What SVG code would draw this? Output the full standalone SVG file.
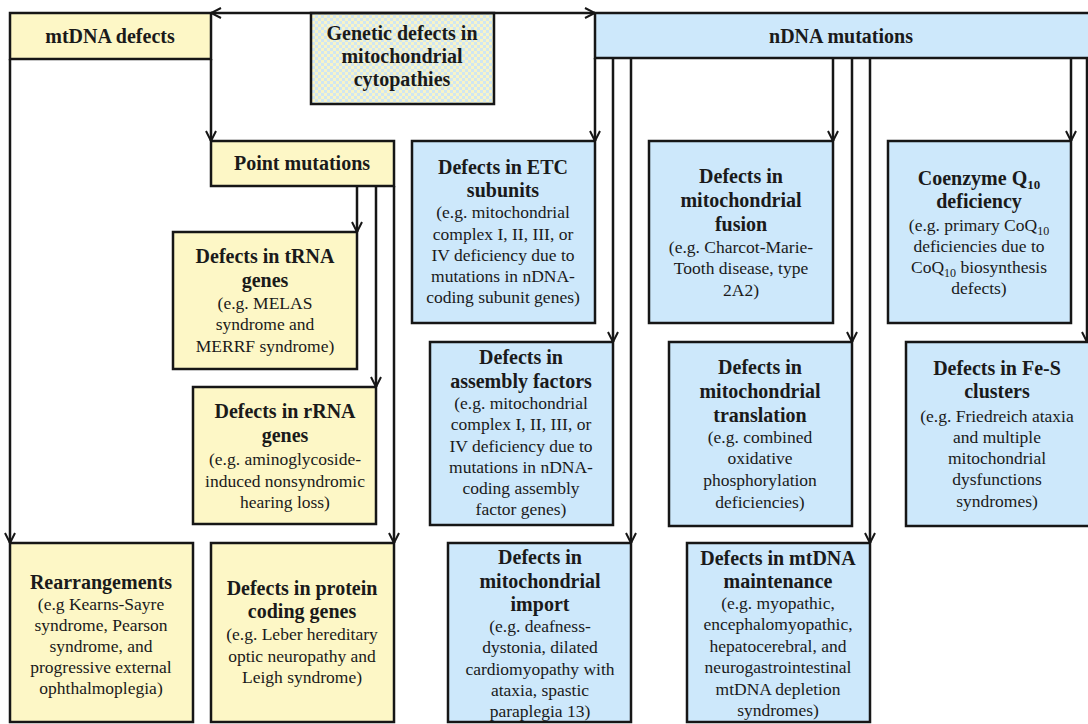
<svg xmlns="http://www.w3.org/2000/svg" width="1088" height="724" viewBox="0 0 1088 724">
<style>
.y{fill:#FDF7C6;stroke:#161616;stroke-width:2.5}
.b{fill:#CDE8FB;stroke:#161616;stroke-width:2.5}
.g{fill:url(#chk);stroke:#161616;stroke-width:2.5}
text{font-family:"Liberation Serif","Times New Roman",serif;fill:#1a1a1a;text-anchor:middle}
.t{font-size:20px;font-weight:bold}
.d{font-size:17.5px}
.c{fill:none;stroke:#161616;stroke-width:2.5}
</style>
<defs>
<pattern id="chk" width="6" height="6" patternUnits="userSpaceOnUse">
<rect width="6" height="6" fill="#F8F4C8"/>
<rect width="3" height="3" fill="#D0E6F2"/>
<rect x="3" y="3" width="3" height="3" fill="#D0E6F2"/>
</pattern>
<marker id="arr" viewBox="0 0 12 12" refX="11" refY="6" markerWidth="12" markerHeight="12" markerUnits="userSpaceOnUse" orient="auto-start-reverse">
<path d="M1,1 L11,6 L1,11" fill="none" stroke="#161616" stroke-width="2"/>
</marker>
</defs>
<rect width="1088" height="724" fill="#fff"/>

<g id="mtdna">
<rect class="y" x="10" y="13" width="201" height="46"/>
<text class="t" x="110" y="43">mtDNA defects</text>
</g>
<g id="genetic">
<rect class="g" x="311" y="13" width="183" height="91"/>
<text class="t" x="402" y="40">Genetic defects in</text>
<text class="t" x="402" y="63">mitochondrial</text>
<text class="t" x="402" y="86">cytopathies</text>
</g>
<g id="ndna">
<rect class="b" x="595" y="13" width="496" height="45"/>
<text class="t" x="841" y="43">nDNA mutations</text>
</g>
<g id="point">
<rect class="y" x="211" y="141" width="183" height="45"/>
<text class="t" x="302" y="170">Point mutations</text>
</g>
<g id="trna">
<rect class="y" x="173" y="232" width="184" height="137"/>
<text class="t" x="265" y="263">Defects in tRNA</text>
<text class="t" x="265" y="287">genes</text>
<text class="d" x="265" y="309">(e.g. MELAS</text>
<text class="d" x="265" y="330">syndrome and</text>
<text class="d" x="265" y="352">MERRF syndrome)</text>
</g>
<g id="rrna">
<rect class="y" x="193" y="387" width="183" height="137"/>
<text class="t" x="285" y="418">Defects in rRNA</text>
<text class="t" x="285" y="442">genes</text>
<text class="d" x="285" y="465">(e.g. aminoglycoside-</text>
<text class="d" x="285" y="487">induced nonsyndromic</text>
<text class="d" x="285" y="508">hearing  loss)</text>
</g>
<g id="rearr">
<rect class="y" x="10" y="543" width="183" height="179"/>
<text class="t" x="101" y="589">Rearrangements</text>
<text class="d" x="101" y="610">(e.g Kearns-Sayre</text>
<text class="d" x="101" y="631">syndrome, Pearson</text>
<text class="d" x="101" y="652">syndrome, and</text>
<text class="d" x="101" y="673">progressive external</text>
<text class="d" x="101" y="694">ophthalmoplegia)</text>
</g>
<g id="protein">
<rect class="y" x="211" y="543" width="183" height="179"/>
<text class="t" x="302" y="595">Defects in protein</text>
<text class="t" x="302" y="618">coding genes</text>
<text class="d" x="302" y="640">(e.g. Leber hereditary</text>
<text class="d" x="302" y="662">optic neuropathy and</text>
<text class="d" x="302" y="683">Leigh  syndrome)</text>
</g>
<g id="etc">
<rect class="b" x="412" y="141" width="183" height="182"/>
<text class="t" x="503" y="174">Defects in ETC</text>
<text class="t" x="503" y="197">subunits</text>
<text class="d" x="503" y="218">(e.g. mitochondrial</text>
<text class="d" x="503" y="240">complex I, II, III, or</text>
<text class="d" x="503" y="261">IV deficiency due to</text>
<text class="d" x="503" y="282">mutations in nDNA-</text>
<text class="d" x="503" y="303">coding subunit genes)</text>
</g>
<g id="assembly">
<rect class="b" x="430" y="342" width="183" height="183"/>
<text class="t" x="521" y="364">Defects in</text>
<text class="t" x="521" y="388">assembly  factors</text>
<text class="d" x="521" y="409">(e.g. mitochondrial</text>
<text class="d" x="521" y="430">complex I, II, III, or</text>
<text class="d" x="521" y="452">IV  deficiency due to</text>
<text class="d" x="521" y="473">mutations in nDNA-</text>
<text class="d" x="521" y="494">coding assembly</text>
<text class="d" x="521" y="515">factor genes)</text>
</g>
<g id="import">
<rect class="b" x="448" y="543" width="183" height="179"/>
<text class="t" x="540" y="564">Defects in</text>
<text class="t" x="540" y="588">mitochondrial</text>
<text class="t" x="540" y="611">import</text>
<text class="d" x="540" y="632">(e.g. deafness-</text>
<text class="d" x="540" y="653">dystonia, dilated</text>
<text class="d" x="540" y="675">cardiomyopathy with</text>
<text class="d" x="540" y="696">ataxia, spastic</text>
<text class="d" x="540" y="717">paraplegia 13)</text>
</g>
<g id="fusion">
<rect class="b" x="649" y="141" width="184" height="182"/>
<text class="t" x="741" y="183">Defects in</text>
<text class="t" x="741" y="207">mitochondrial</text>
<text class="t" x="741" y="231">fusion</text>
<text class="d" x="741" y="253">(e.g. Charcot-Marie-</text>
<text class="d" x="741" y="274">Tooth disease, type</text>
<text class="d" x="741" y="296">2A2)</text>
</g>
<g id="translation">
<rect class="b" x="669" y="342" width="183" height="184"/>
<text class="t" x="760" y="374">Defects in</text>
<text class="t" x="760" y="398">mitochondrial</text>
<text class="t" x="760" y="422">translation</text>
<text class="d" x="760" y="443">(e.g. combined</text>
<text class="d" x="760" y="464">oxidative</text>
<text class="d" x="760" y="486">phosphorylation</text>
<text class="d" x="760" y="508">deficiencies)</text>
</g>
<g id="maintenance">
<rect class="b" x="687" y="543" width="183" height="179"/>
<text class="t" x="778" y="565">Defects in mtDNA</text>
<text class="t" x="778" y="588">maintenance</text>
<text class="d" x="778" y="609">(e.g. myopathic,</text>
<text class="d" x="778" y="630">encephalomyopathic,</text>
<text class="d" x="778" y="652">hepatocerebral, and</text>
<text class="d" x="778" y="673">neurogastrointestinal</text>
<text class="d" x="778" y="695">mtDNA depletion</text>
<text class="d" x="778" y="716">syndromes)</text>
</g>
<g id="coq10">
<rect class="b" x="888" y="141" width="183" height="182"/>
<text class="t" x="979" y="185">Coenzyme Q<tspan font-size="13" dy="4">10</tspan></text>
<text class="t" x="979" y="208">deficiency</text>
<text class="d" x="979" y="231">(e.g. primary CoQ<tspan font-size="12" dy="4">10</tspan></text>
<text class="d" x="979" y="252">deficiencies  due to</text>
<text class="d" x="979" y="273">CoQ<tspan font-size="12" dy="4">10</tspan><tspan dy="-4"> biosynthesis</tspan></text>
<text class="d" x="979" y="294">defects)</text>
</g>
<g id="fes">
<rect class="b" x="906" y="342" width="190" height="184"/>
<text class="t" x="997" y="375">Defects in Fe-S</text>
<text class="t" x="997" y="398">clusters</text>
<text class="d" x="997" y="422">(e.g. Friedreich ataxia</text>
<text class="d" x="997" y="443">and  multiple</text>
<text class="d" x="997" y="464">mitochondrial</text>
<text class="d" x="997" y="485">dysfunctions</text>
<text class="d" x="997" y="507">syndromes)</text>
</g>

<g id="connectors">
<path class="c" d="M211,13 L595,13" marker-start="url(#arr)" marker-end="url(#arr)"/>
<path class="c" d="M211,59 L211,141" marker-end="url(#arr)"/>
<path class="c" d="M10,59 L10,543" marker-end="url(#arr)"/>
<path class="c" d="M357,186 L357,232" marker-end="url(#arr)"/>
<path class="c" d="M376,186 L376,387" marker-end="url(#arr)"/>
<path class="c" d="M394,186 L394,543" marker-end="url(#arr)"/>
<path class="c" d="M595,58 L595,141" marker-end="url(#arr)"/>
<path class="c" d="M613,58 L613,342" marker-end="url(#arr)"/>
<path class="c" d="M631,58 L631,543" marker-end="url(#arr)"/>
<path class="c" d="M833,58 L833,141" marker-end="url(#arr)"/>
<path class="c" d="M852,58 L852,342" marker-end="url(#arr)"/>
<path class="c" d="M870,58 L870,543" marker-end="url(#arr)"/>
<path class="c" d="M1071,58 L1071,141" marker-end="url(#arr)"/>
<path class="c" d="M1087,58 L1087,342" marker-end="url(#arr)"/>
</g>
</svg>
